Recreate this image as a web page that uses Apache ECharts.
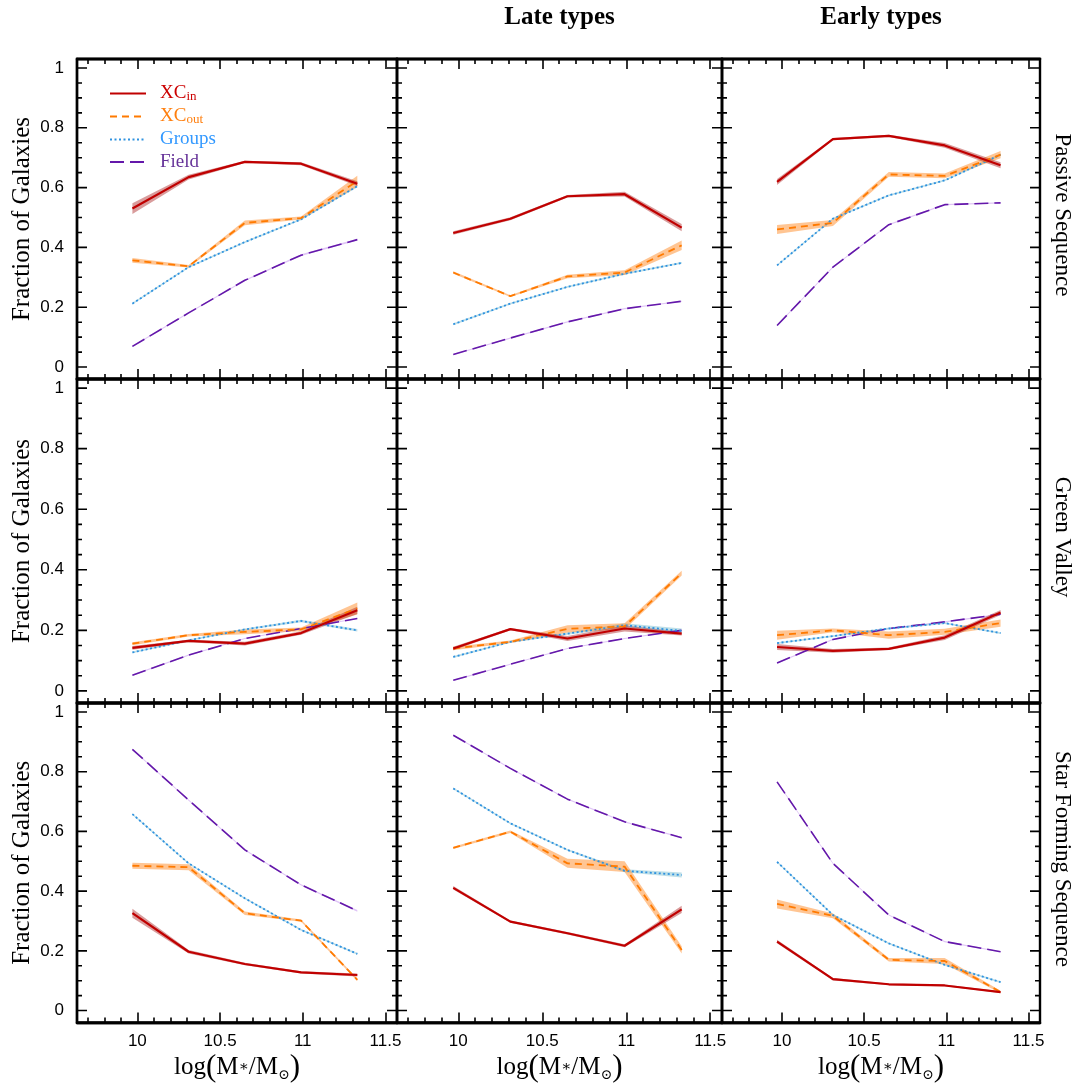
<!DOCTYPE html>
<html>
<head>
<meta charset="utf-8">
<title>Fraction of galaxies by stellar mass</title>
<script src="https://cdn.jsdelivr.net/npm/echarts@6/dist/echarts.min.js"></script>
<style>
  html, body { margin: 0; padding: 0; background: #fff; }
  #chart { width: 1078px; height: 1084px; }
</style>
</head>
<body>
<div id="chart"></div>
<script>
// Stellar-mass bin centres, log(M*/Msun)
const massBins = [9.97, 10.31, 10.65, 10.99, 11.33];

const seriesNames = ['XCin', 'XCout', 'Groups', 'Field'];
const columnTitles = ['', 'Late types', 'Early types'];
const rowTitles = ['Passive Sequence', 'Green Valley', 'Star Forming Sequence'];
const xTickValues = [10, 10.5, 11, 11.5];
const yTickValues = [0, 0.2, 0.4, 0.6, 0.8, 1];

// Fractions per panel, rows: XCin, XCout, Groups, Field
const passiveAll = [
  [0.530, 0.635, 0.686, 0.680, 0.613],
  [0.357, 0.337, 0.482, 0.498, 0.622],
  [0.212, 0.334, 0.418, 0.494, 0.605],
  [0.069, 0.181, 0.290, 0.374, 0.426]
];
const passiveLate = [
  [0.448, 0.496, 0.571, 0.578, 0.466],
  [0.316, 0.237, 0.303, 0.316, 0.407],
  [0.143, 0.212, 0.268, 0.312, 0.348],
  [0.042, 0.097, 0.151, 0.195, 0.220]
];
const passiveEarly = [
  [0.619, 0.762, 0.773, 0.741, 0.675],
  [0.460, 0.482, 0.644, 0.639, 0.710],
  [0.340, 0.496, 0.574, 0.624, 0.710],
  [0.139, 0.334, 0.476, 0.543, 0.549]
];
const greenAll = [
  [0.142, 0.165, 0.156, 0.191, 0.266],
  [0.156, 0.184, 0.195, 0.203, 0.272],
  [0.127, 0.167, 0.203, 0.231, 0.200],
  [0.052, 0.118, 0.173, 0.206, 0.239]
];
const greenLate = [
  [0.140, 0.204, 0.173, 0.206, 0.189],
  [0.140, 0.162, 0.205, 0.213, 0.389],
  [0.112, 0.162, 0.189, 0.217, 0.198],
  [0.035, 0.088, 0.140, 0.173, 0.200]
];
const greenEarly = [
  [0.145, 0.132, 0.139, 0.176, 0.259],
  [0.184, 0.200, 0.184, 0.195, 0.224],
  [0.158, 0.181, 0.206, 0.224, 0.191],
  [0.092, 0.170, 0.206, 0.228, 0.253]
];
const starAll = [
  [0.326, 0.197, 0.156, 0.128, 0.119],
  [0.485, 0.480, 0.326, 0.301, 0.103],
  [0.658, 0.493, 0.376, 0.270, 0.190],
  [0.875, 0.705, 0.538, 0.421, 0.334]
];
const starLate = [
  [0.411, 0.298, 0.259, 0.217, 0.339],
  [0.545, 0.599, 0.493, 0.482, 0.203],
  [0.744, 0.627, 0.538, 0.468, 0.454],
  [0.922, 0.811, 0.708, 0.632, 0.579]
];
const starEarly = [
  [0.231, 0.105, 0.088, 0.084, 0.062],
  [0.357, 0.317, 0.170, 0.166, 0.062],
  [0.498, 0.320, 0.225, 0.153, 0.095],
  [0.766, 0.493, 0.320, 0.231, 0.197]
];

// Half-widths of the uncertainty bands, same layout
const passiveAllErr = [
  [0.018, 0.008, 0.004, 0.005, 0.008],
  [0.008, 0.004, 0.008, 0.005, 0.018],
  [0.003, 0.003, 0.003, 0.003, 0.004],
  [0.002, 0.002, 0.002, 0.003, 0.003]
];
const passiveLateErr = [
  [0.006, 0.005, 0.004, 0.008, 0.012],
  [0.004, 0.003, 0.006, 0.008, 0.016],
  [0.003, 0.003, 0.003, 0.003, 0.003],
  [0.002, 0.002, 0.002, 0.002, 0.002]
];
const passiveEarlyErr = [
  [0.010, 0.004, 0.004, 0.008, 0.010],
  [0.015, 0.010, 0.008, 0.008, 0.012],
  [0.003, 0.003, 0.003, 0.003, 0.004],
  [0.002, 0.002, 0.002, 0.002, 0.002]
];
const greenAllErr = [
  [0.006, 0.004, 0.006, 0.006, 0.012],
  [0.005, 0.004, 0.008, 0.006, 0.020],
  [0.003, 0.003, 0.003, 0.004, 0.004],
  [0.002, 0.002, 0.002, 0.002, 0.002]
];
const greenLateErr = [
  [0.006, 0.004, 0.008, 0.010, 0.006],
  [0.006, 0.004, 0.012, 0.010, 0.008],
  [0.003, 0.003, 0.004, 0.006, 0.008],
  [0.002, 0.002, 0.002, 0.002, 0.002]
];
const greenEarlyErr = [
  [0.010, 0.006, 0.004, 0.008, 0.008],
  [0.015, 0.006, 0.012, 0.010, 0.012],
  [0.003, 0.003, 0.003, 0.003, 0.003],
  [0.002, 0.002, 0.002, 0.002, 0.002]
];
const starAllErr = [
  [0.015, 0.006, 0.004, 0.004, 0.005],
  [0.010, 0.010, 0.006, 0.004, 0.004],
  [0.003, 0.003, 0.003, 0.003, 0.003],
  [0.002, 0.002, 0.002, 0.002, 0.003]
];
const starLateErr = [
  [0.006, 0.004, 0.004, 0.005, 0.012],
  [0.004, 0.004, 0.015, 0.018, 0.012],
  [0.003, 0.003, 0.003, 0.005, 0.008],
  [0.002, 0.002, 0.002, 0.002, 0.002]
];
const starEarlyErr = [
  [0.006, 0.004, 0.003, 0.003, 0.003],
  [0.015, 0.008, 0.006, 0.010, 0.004],
  [0.003, 0.003, 0.003, 0.003, 0.003],
  [0.002, 0.002, 0.002, 0.002, 0.002]
];

const panelValues = [
  [passiveAll, passiveLate, passiveEarly],
  [greenAll, greenLate, greenEarly],
  [starAll, starLate, starEarly]
];
const panelErrors = [
  [passiveAllErr, passiveLateErr, passiveEarlyErr],
  [greenAllErr, greenLateErr, greenEarlyErr],
  [starAllErr, starLateErr, starEarlyErr]
];

// ---- styling & layout ----
const SERIF = '"Liberation Serif", "DejaVu Serif", serif';
const SANS = '"Liberation Sans", Arial, sans-serif';
const lineColors = ['#c00000', '#ff7a00', '#2f92e0', '#6418aa'];
const bandColors = ['rgba(170,35,35,0.45)', 'rgba(255,140,40,0.5)', 'rgba(110,185,205,0.45)', 'rgba(185,125,235,0.45)'];
const legendColors = ['#cc0000', '#ff7f0e', '#3399ff', '#663399'];
const lineStyles = [
  { type: 'solid', width: 2.2 },
  { type: [7, 5], width: 1.8 },
  { type: [2, 2.5], width: 1.8 },
  { type: [14, 6], width: 1.6 }
];

const colLeft = [77, 397, 722];
const colWidth = [320, 325, 318];
const rowTop = [59, 379, 703];
const rowHeight = [320, 324, 320];
const X_MIN = 9.635, X_MAX = 11.57;
const Y_MIN = -0.04, Y_MAX = 1.03;
const MAJOR_LEN = 10, MINOR_LEN = 5, TICK_W = 1.6;

const xMinor = [];
for (let k = 97; k <= 115; k++) { if (k % 5 !== 0) xMinor.push(k / 10); }
const yMinor = [];
for (let k = 1; k < 20; k++) { if (k % 4 !== 0) yMinor.push(k / 20); }

const grids = [], xAxes = [], yAxes = [], series = [];

function tickAxis(base, values, len) {
  return Object.assign({
    type: 'value',
    axisLine: { show: true, onZero: false, lineStyle: { color: '#000', width: 2.4 } },
    splitLine: { show: false },
    axisTick: { show: true, inside: true, length: len, customValues: values,
                lineStyle: { color: '#000', width: TICK_W } },
    axisLabel: { show: false }
  }, base);
}

// Inward tick marks on the left (item 0) and right (item 1) frame edges.
// Heights come from the panel's y scale; the edges come from the plot rectangle.
const yMarks = yTickValues.map(v => [v, MAJOR_LEN])
  .concat(yMinor.map(v => [v, MINOR_LEN]))
  .sort((p, q) => p[0] - q[0]);

function yFrameTicks(xi, yi) {
  return {
    type: 'custom',
    name: 'frame ticks',
    xAxisIndex: xi, yAxisIndex: yi,
    silent: true,
    z: 2,
    data: massBins.map(x => [x, 0.5]),
    encode: { x: 0, y: 1 },
    renderItem: (params, api) => {
      if (params.dataIndex > 1) return null;
      const right = params.dataIndex === 1;
      const cs = params.coordSys;
      const edge = right ? cs.x + cs.width : cs.x;
      const pts = [];
      yMarks.forEach(m => {
        const py = api.coord([massBins[2], m[0]])[1];
        const tip = right ? edge - m[1] : edge + m[1];
        pts.push([edge, py + TICK_W / 2]);
        pts.push([tip, py + TICK_W / 2]);
        pts.push([tip, py - TICK_W / 2]);
        pts.push([edge, py - TICK_W / 2]);
      });
      return { type: 'polygon', shape: { points: pts }, style: { fill: '#000', stroke: null } };
    }
  };
}

for (let r = 0; r < 3; r++) {
  for (let c = 0; c < 3; c++) {
    const g = grids.length;
    grids.push({
      left: colLeft[c], top: rowTop[r], width: colWidth[c], height: rowHeight[r],
      show: true, borderColor: '#000', borderWidth: 2.4, backgroundColor: 'transparent',
      containLabel: false
    });
    const xb = { gridIndex: g, min: X_MIN, max: X_MAX };
    const yb = { gridIndex: g, min: Y_MIN, max: Y_MAX };
    const xi = xAxes.length, yi = yAxes.length;

    const xMain = tickAxis(Object.assign({ position: 'bottom' }, xb), xTickValues, MAJOR_LEN);
    if (r === 2) {
      xMain.axisLabel = { show: true, customValues: xTickValues, margin: 10, fontSize: 17,
                          fontFamily: SANS, color: '#000', formatter: v => String(v) };
      xMain.name = '{t|log}{p|(}{t|M}{s|∗}{t|/M}{o|⊙}{p|)}';
      xMain.nameLocation = 'middle';
      xMain.nameGap = 30;
      xMain.nameTextStyle = {
        rich: {
          t: { fontFamily: SERIF, fontSize: 25, color: '#000', lineHeight: 30 },
          p: { fontFamily: SERIF, fontSize: 31, color: '#000', lineHeight: 30 },
          s: { fontFamily: SERIF, fontSize: 15, color: '#000', lineHeight: 30 },
          o: { fontFamily: '"DejaVu Serif", serif', fontSize: 14, color: '#000', lineHeight: 22, verticalAlign: 'bottom' }
        }
      };
    }
    xAxes.push(xMain);
    xAxes.push(tickAxis(Object.assign({ position: 'bottom' }, xb), xMinor, MINOR_LEN));
    xAxes.push(tickAxis(Object.assign({ position: 'top' }, xb), xTickValues, MAJOR_LEN));
    xAxes.push(tickAxis(Object.assign({ position: 'top' }, xb), xMinor, MINOR_LEN));

    const yMain = tickAxis(Object.assign({ position: 'left' }, yb), yTickValues, MAJOR_LEN);
    yMain.axisTick = { show: false };
    if (c === 0) {
      yMain.axisLabel = { show: true, customValues: yTickValues, margin: 13, fontSize: 17,
                          fontFamily: SANS, color: '#000', formatter: v => String(v) };
      yMain.name = 'Fraction of Galaxies';
      yMain.nameLocation = 'middle';
      yMain.nameRotate = 90;
      yMain.nameGap = 42;
      yMain.nameTextStyle = { fontFamily: SERIF, fontSize: 25, color: '#000' };
    }
    yAxes.push(yMain);

    const vals = panelValues[r][c];
    const errs = panelErrors[r][c];

    // Uncertainty bands (drawn beneath the lines)
    for (let s = 3; s >= 0; s--) {
      const v = vals[s], e = errs[s];
      series.push({
        type: 'custom',
        name: seriesNames[s] + ' band',
        xAxisIndex: xi, yAxisIndex: yi,
        silent: true,
        z: 1,
        data: massBins.map((x, i) => [x, v[i] - e[i], v[i] + e[i]]),
        encode: { x: 0, y: [1, 2] },
        renderItem: (params, api) => {
          if (params.dataIndex !== 0) return null;
          const pts = [];
          for (let i = 0; i < massBins.length; i++) pts.push(api.coord([massBins[i], v[i] + e[i]]));
          for (let i = massBins.length - 1; i >= 0; i--) pts.push(api.coord([massBins[i], v[i] - e[i]]));
          return { type: 'polygon', shape: { points: pts }, style: { fill: bandColors[s], stroke: null } };
        }
      });
    }
    series.push(yFrameTicks(xi, yi));

    // Mean fractions
    for (let s = 3; s >= 0; s--) {
      series.push({
        type: 'line',
        name: seriesNames[s],
        xAxisIndex: xi, yAxisIndex: yi,
        data: massBins.map((x, i) => [x, vals[s][i]]),
        symbol: 'none',
        silent: true,
        z: 3 + (3 - s),
        lineStyle: Object.assign({ color: lineColors[s], cap: 'butt', join: 'round' }, lineStyles[s]),
        itemStyle: { color: lineColors[s] }
      });
    }
  }
}

const legendLabels = {
  XCin: '{m|XC}{s|in}',
  XCout: '{m|XC}{s|out}',
  Groups: '{m|Groups}',
  Field: '{m|Field}'
};

const graphics = [];
columnTitles.forEach((t, c) => {
  if (!t) return;
  graphics.push({
    type: 'text', x: colLeft[c] + colWidth[c] / 2, y: 18,
    style: { text: t, font: 'bold 25px ' + SERIF, fill: '#000', align: 'center', verticalAlign: 'middle' }
  });
});
rowTitles.forEach((t, r) => {
  graphics.push({
    type: 'text', x: 1062, y: rowTop[r] + rowHeight[r] / 2 - 4, rotation: -Math.PI / 2,
    style: { text: t, font: '23px ' + SERIF, fill: '#000', align: 'center', verticalAlign: 'middle' }
  });
});

const chart = echarts.init(document.getElementById('chart'), null, { renderer: 'canvas' });
chart.setOption({
  backgroundColor: '#fff',
  animation: false,
  grid: grids,
  xAxis: xAxes,
  yAxis: yAxes,
  legend: {
    left: 104, top: 79, orient: 'vertical',
    itemWidth: 36, itemHeight: 14, itemGap: 3.5,
    selectedMode: false,
    itemStyle: { opacity: 0 },
    data: seriesNames.map((n, i) => ({
      name: n,
      textStyle: { color: legendColors[i] }
    })),
    formatter: n => legendLabels[n],
    textStyle: {
      padding: [0, 0, 0, 9],
      rich: {
        m: { fontFamily: SERIF, fontSize: 19, lineHeight: 20 },
        s: { fontFamily: SERIF, fontSize: 13, lineHeight: 12, verticalAlign: 'bottom' }
      }
    }
  },
  graphic: graphics,
  series: series
});
</script>
</body>
</html>
